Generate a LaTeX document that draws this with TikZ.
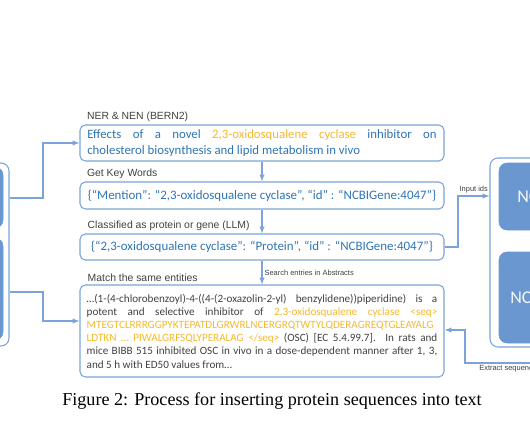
\documentclass[tikz,border=0pt]{standalone}
\usepackage{fontspec}
\setmainfont{Liberation Serif}
\newfontfamily\boxfont{Carlito}
\newfontfamily\labfont{Liberation Sans}
\usetikzlibrary{positioning}
\definecolor{boxline}{HTML}{7BA3D8}
\definecolor{boxfill}{HTML}{6A97D0}
\definecolor{txtblue}{HTML}{2E74B5}
\definecolor{txtorange}{HTML}{F5B82E}
\definecolor{txtgray}{HTML}{404040}
\newcommand{\hl}[1]{\textcolor{txtorange}{#1}}
\tikzset{
	stepbox/.style={draw=boxline, line width=0.8pt, rounded corners=4pt,
		minimum width=273pt, inner sep=0pt, text=txtblue},
	colbox/.style={draw=boxline, line width=0.8pt, rounded corners=6pt, inner sep=0pt},
	dbbox/.style={fill=boxfill, draw=boxfill, rounded corners=6pt, inner sep=0pt},
	steplabel/.style={anchor=south west, inner sep=1pt, text=txtgray,
		font=\labfont\fontsize{7.8}{9}\selectfont},
	arrlabel/.style={inner sep=1.5pt, text=txtgray,
		font=\labfont\fontsize{5.6}{7}\selectfont},
	arr/.style={draw=boxline, line width=0.8pt, -latex}
}
\begin{document}
	\begin{tikzpicture}[x=0.75pt, y=-0.75pt]
		\useasboundingbox (0,0) rectangle (530,442);
		\clip (0,0) rectangle (530,442);
		
		% left column
		\node[colbox, minimum width=36.75pt, minimum height=137.25pt] (lcol) at (-15.5,254.5) {};
		\node[dbbox, minimum width=32.25pt, minimum height=45.75pt] (lsrc1) at (-18.5,197.5) {};
		\node[dbbox, minimum width=32.25pt, minimum height=76.5pt] (lsrc2) at (-18.5,289) {};
		
		% steps
		\node[stepbox, minimum height=27pt, text width=262pt, align=justify,
		font=\boxfont\fontsize{9.6}{12}\selectfont] (ner) at (262,143)
		{Effects of a novel \hl{2,3-oxidosqualene cyclase} inhibitor on\linebreak
			cholesterol biosynthesis and lipid metabolism in vivo};
		\node[steplabel] (tner) at ([xshift=4.5pt,yshift=1pt]ner.north west) {NER \& NEN (BERN2)};
		
		\node[stepbox, minimum height=20.25pt, font=\boxfont\fontsize{9.7}{12}\selectfont]
		(kw) at (262,195.5) {\{“Mention”: “2,3-oxidosqualene cyclase”, “id” : “NCBIGene:4047”\}};
		\node[steplabel] (tkw) at ([xshift=4.5pt,yshift=1pt]kw.north west) {Get Key Words};
		
		\node[stepbox, minimum height=19.5pt, font=\boxfont\fontsize{9.7}{12}\selectfont]
		(cls) at (262,247) {\{“2,3-oxidosqualene cyclase”: “Protein”, “id” : “NCBIGene:4047”\}};
		\node[steplabel] (tcls) at ([xshift=5pt,yshift=1pt]cls.north west) {Classified as protein or gene (LLM)};
		
		\node[stepbox, minimum height=69pt, text width=263pt, align=justify, text=txtgray,
		font=\boxfont\fontsize{8.35}{9.9}\selectfont] (abs) at (262,331)
		{…(1-(4-chlorobenzoyl)-4-((4-(2-oxazolin-2-yl) benzylidene))piperidine) is a\linebreak
			potent and selective inhibitor of \hl{2,3-oxidosqualene cyclase <seq>}\linebreak
			\hl{MTEGTCLRRRGGPYKTEPATDLGRWRLNCERGRQTWTYLQDERAGREQTGLEAYALG}\linebreak
			\hl{LDTKN … PIWALGRFSQLYPERALAG </seq>} (OSC) [EC 5.4.99.7]. In rats and\linebreak
			mice BIBB 515 inhibited OSC in vivo in a dose-dependent manner after 1, 3,\linebreak
			and 5 h with ED50 values from…};
		\node[steplabel] (tabs) at ([xshift=5pt,yshift=1pt]abs.north west) {Match the same entities};
		
		% right column
		\node[colbox, minimum width=97.5pt, minimum height=141.75pt] (rcol) at (555,252.5) {};
		\node[dbbox, minimum width=90.75pt, minimum height=50.25pt] (gene) at (559.5,196.5) {};
		\node[dbbox, minimum width=90.75pt, minimum height=68.25pt] (prot) at (559.5,297.5) {};
		\node[anchor=west, text=white!92!boxfill, inner sep=0pt,
		font=\boxfont\fontsize{13.5}{15}\selectfont] (tgene) at (517,197) {NCBI};
		\node[anchor=west, text=white!92!boxfill, inner sep=0pt,
		font=\boxfont\fontsize{13.5}{15}\selectfont] (tprot) at (510,298) {NCBI};
		
		% connectors
		\draw[arr] (lcol.east |- 0,198) -- (43,198) |- (ner.west);
		\draw[arr] (lcol.east |- 0,292) -- (43,292) |- (abs.west |- 0,321);
		\draw[arr] (ner.south) -- (kw.north);
		\draw[arr] (kw.south) -- (cls.north);
		\draw[arr] (cls.south) -- (abs.north) node[arrlabel, midway, right] {Search entries in Abstracts};
		\draw[arr] (cls.east) -- (458,247) |- (rcol.west |- 0,196)
		node[arrlabel, pos=0.75, above] {Input ids};
		\draw[arr] (rcol.south) |- (465,363) node[arrlabel, pos=0.75, below] {Extract sequences}
		-- (465,330) -- (abs.east |- 0,330);
		
		% caption
		\node[font=\fontsize{13.6}{16}\selectfont] (cap) at (272,401)
		{Figure 2: Process for inserting protein sequences into text};
	\end{tikzpicture}
\end{document}
